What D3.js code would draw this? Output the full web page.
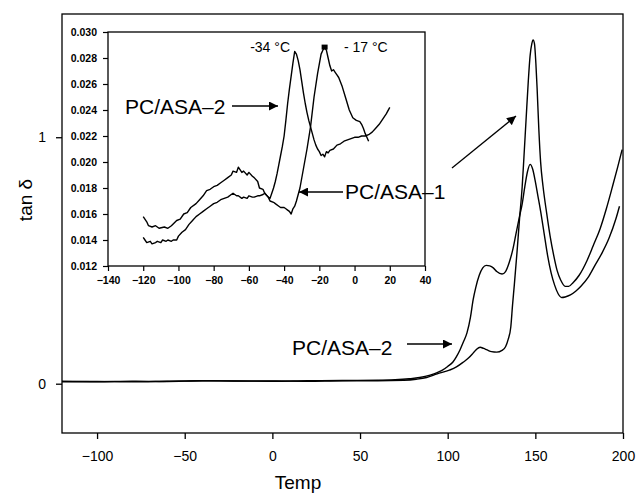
<!DOCTYPE html>
<html><head><meta charset="utf-8">
<script src="https://cdn.jsdelivr.net/npm/d3@7"></script>
<style>body{margin:0;background:#fff}svg{display:block}text{font-family:"Liberation Sans",Arial,sans-serif;fill:#000}</style>
</head><body><svg id="c" width="638" height="496"></svg>
<script>
// ---- main plot data ----
const mainTicksX = [-100, -50, 0, 50, 100, 150, 200];
const mainTicksY = [0, 1];
const asa2Temp = [-120,-100,-80,-60,-40,-20,0,20,40,60,70,78,84,90,94,97,100,103,105,107,109,111,113,114.5,116,118,120,122,124,126,128,131,133,135,137,139,141,142.5,144,145.5,147,148.5,150,151.5,153,155,157,159,161,163,165,167,170,173,176,180,184,188,192,196,198];
const asa2Tan  = [0.010,0.008,0.010,0.009,0.012,0.011,0.010,0.012,0.013,0.014,0.016,0.020,0.025,0.035,0.045,0.055,0.070,0.088,0.110,0.137,0.170,0.206,0.270,0.340,0.390,0.440,0.470,0.480,0.478,0.470,0.455,0.445,0.455,0.490,0.540,0.610,0.680,0.730,0.800,0.860,0.890,0.870,0.820,0.760,0.700,0.610,0.520,0.450,0.400,0.365,0.350,0.352,0.360,0.375,0.395,0.430,0.480,0.530,0.590,0.670,0.720];
const asa1Temp = [-120,-100,-80,-60,-40,-20,0,20,40,60,75,82,88,94,101,105,109,112,114.5,116.5,118.5,120.5,122.5,125,128,131,133,134.5,136,137,138,139.5,141,142.5,143.5,144.7,146,147,148,148.7,149.5,150.3,151,152,153,154.4,156.5,158.4,160.5,162.4,164.5,167,169,171.5,175,179.5,183,187,190.5,194,197,199.5];
const asa1Tan  = [0.008,0.009,0.008,0.010,0.012,0.011,0.011,0.010,0.012,0.012,0.014,0.018,0.025,0.040,0.055,0.068,0.088,0.105,0.124,0.140,0.148,0.143,0.137,0.130,0.128,0.135,0.150,0.180,0.230,0.320,0.400,0.530,0.670,0.800,0.920,1.070,1.230,1.330,1.380,1.395,1.380,1.300,1.200,1.030,0.900,0.800,0.690,0.600,0.520,0.460,0.420,0.395,0.395,0.410,0.440,0.500,0.560,0.630,0.710,0.800,0.880,0.950];

// ---- inset data ----
const insetTicksX = [-140,-120,-100,-80,-60,-40,-20,0,20,40];
const insetTicksY = [0.012,0.014,0.016,0.018,0.020,0.022,0.024,0.026,0.028,0.030];
const inA1Temp = [-120,-118,-117,-115,-113,-111,-108,-106,-104,-101,-99,-97,-95,-93,-90,-88,-86,-84,-82,-80,-78,-76,-74,-72,-70,-69,-67,-66,-64,-63,-61,-60,-58,-57,-55,-54,-52,-51,-49,-48,-46,-45,-43,-42,-40,-39,-38,-37,-36,-35,-34,-33,-31,-29,-27,-25,-23,-21,-19,-18,-17,-16,-15,-14,-13,-12,-11,-10,-9,-7,-5,-3,-1,1,3,4,5,6,7,8];
const inA1Tan  = [0.0158,0.0154,0.0151,0.0150,0.0151,0.0149,0.0150,0.0149,0.0151,0.0155,0.0156,0.0160,0.0161,0.0165,0.0168,0.0171,0.0174,0.0178,0.0179,0.0181,0.0182,0.0184,0.0186,0.0188,0.0190,0.0193,0.0192,0.0196,0.0192,0.0193,0.0190,0.0192,0.0189,0.0188,0.0185,0.0180,0.0179,0.0176,0.0173,0.0170,0.0169,0.0168,0.0166,0.0165,0.0165,0.0164,0.0163,0.0162,0.0160,0.0164,0.0166,0.0170,0.0180,0.0195,0.0210,0.0227,0.0250,0.0268,0.0283,0.0286,0.0288,0.0286,0.0280,0.0274,0.0270,0.0271,0.0269,0.0267,0.0265,0.0258,0.0249,0.0240,0.0234,0.0232,0.0231,0.0229,0.0226,0.0222,0.0219,0.0216];
const inA2Temp = [-120,-119,-118,-116,-115,-113,-112,-110,-109,-107,-106,-104,-103,-101,-100,-98,-96,-94,-92,-90,-88,-86,-84,-82,-80,-78,-76,-74,-72,-70,-69,-67,-66,-64,-63,-61,-60,-58,-57,-55,-54,-52,-51,-49,-48,-47,-46,-45,-44,-43,-42,-41,-40,-39,-38,-37,-36,-35,-34,-33,-32,-31,-30,-29,-28,-27,-26,-25,-24,-23,-22,-21,-20,-19,-18,-17,-16,-15,-14,-12,-10,-8,-6,-4,-2,0,2,4,6,8,10,12,14,16,18,20];
const inA2Tan  = [0.0142,0.0140,0.0138,0.0139,0.0137,0.0138,0.0139,0.0138,0.0140,0.0139,0.0140,0.0139,0.0140,0.0140,0.0143,0.0146,0.0148,0.0152,0.0155,0.0158,0.0160,0.0162,0.0164,0.0166,0.0168,0.0169,0.0171,0.0172,0.0173,0.0175,0.0176,0.0174,0.0174,0.0172,0.0173,0.0172,0.0174,0.0173,0.0173,0.0174,0.0174,0.0175,0.0176,0.0173,0.0172,0.0176,0.0180,0.0185,0.0191,0.0198,0.0205,0.0212,0.0220,0.0232,0.0245,0.0256,0.0266,0.0276,0.0285,0.0283,0.0278,0.0271,0.0262,0.0253,0.0245,0.0238,0.0232,0.0227,0.0222,0.0217,0.0213,0.0210,0.0208,0.0205,0.0206,0.0204,0.0208,0.0207,0.0209,0.0210,0.0213,0.0214,0.0216,0.0217,0.0218,0.0219,0.0219,0.0220,0.0220,0.0221,0.0223,0.0226,0.0229,0.0233,0.0237,0.0242];

const svg = d3.select('#c');

// ---- main scales ----
const x = d3.scaleLinear().domain([-120, 200]).range([62, 623]);
const y = d3.scaleLinear().domain([-0.2, 1.5]).range([433, 14]);

const main = svg.append('g');
main.append('rect').attr('x', 62).attr('y', 14).attr('width', 561).attr('height', 419)
  .attr('fill', 'none').attr('stroke', '#000').attr('stroke-width', 1.3);

const ax = main.append('g').attr('transform', 'translate(0,433)')
  .call(d3.axisBottom(x).tickValues(mainTicksX).tickSize(6).tickPadding(12).tickFormat(d3.format('d')));
ax.select('.domain').remove();
ax.selectAll('text').attr('font-size', 14).attr('font-family', '"Liberation Sans",Arial,sans-serif').attr('fill','#000');
ax.selectAll('line').attr('stroke-width', 1.3);

const ay = main.append('g').attr('transform', 'translate(62,0)')
  .call(d3.axisLeft(y).tickValues(mainTicksY).tickSize(6).tickPadding(10).tickFormat(d3.format('d')));
ay.select('.domain').remove();
ay.selectAll('text').attr('font-size', 14).attr('font-family', '"Liberation Sans",Arial,sans-serif').attr('fill','#000');
ay.selectAll('line').attr('stroke-width', 1.3);

main.append('text').attr('x', 298).attr('y', 489).attr('text-anchor', 'middle')
  .attr('font-size', 19).text('Temp');
main.append('text').attr('transform', 'translate(32,200) rotate(-90)').attr('text-anchor', 'middle')
  .attr('font-size', 19).text('tan δ');

const lineMain = d3.line().x(d => x(d[0])).y(d => y(d[1])).curve(d3.curveMonotoneX);
main.append('path').datum(d3.zip(asa2Temp, asa2Tan)).attr('d', lineMain)
  .attr('fill', 'none').attr('stroke', '#000').attr('stroke-width', 1.4);
main.append('path').datum(d3.zip(asa1Temp, asa1Tan)).attr('d', lineMain)
  .attr('fill', 'none').attr('stroke', '#000').attr('stroke-width', 1.4);

// ---- arrows ----
const defs = svg.append('defs');
defs.append('marker').attr('id', 'ah').attr('viewBox', '0 0 10 10').attr('refX', 10).attr('refY', 5)
  .attr('markerWidth', 10).attr('markerHeight', 9).attr('markerUnits', 'userSpaceOnUse').attr('orient', 'auto')
  .append('path').attr('d', 'M0,0 L10,5 L0,10 Z').attr('fill', '#000');

function arrow(x1, y1, x2, y2) {
  svg.append('line').attr('x1', x1).attr('y1', y1).attr('x2', x2).attr('y2', y2)
    .attr('stroke', '#000').attr('stroke-width', 1.3).attr('marker-end', 'url(#ah)');
}

main.append('text').attr('x', 292).attr('y', 355).attr('font-size', 21).text('PC/ASA–2');
arrow(407, 344, 452, 344);
arrow(452, 168, 516, 116);

// ---- inset ----
const ix = d3.scaleLinear().domain([-140, 40]).range([108, 425]);
const iy = d3.scaleLinear().domain([0.012, 0.030]).range([266, 32]);
const inset = svg.append('g');
inset.append('rect').attr('x', 108).attr('y', 32).attr('width', 317).attr('height', 234)
  .attr('fill', '#fff').attr('stroke', '#000').attr('stroke-width', 1.3);

const iax = inset.append('g').attr('transform', 'translate(0,266)')
  .call(d3.axisBottom(ix).tickValues(insetTicksX).tickSize(5).tickPadding(6).tickFormat(d3.format('d')));
iax.select('.domain').remove();
iax.selectAll('text').attr('font-size', 10.5).attr('font-weight', 'bold').attr('font-family', '"DejaVu Sans Mono",monospace').attr('fill','#000');
iax.selectAll('line').attr('stroke-width', 1.2);

const iay = inset.append('g').attr('transform', 'translate(108,0)')
  .call(d3.axisLeft(iy).tickValues(insetTicksY).tickSize(5).tickPadding(6).tickFormat(d3.format('.3f')));
iay.select('.domain').remove();
iay.selectAll('text').attr('font-size', 10.5).attr('font-weight', 'bold').attr('font-family', '"DejaVu Sans Mono",monospace').attr('fill','#000');
iay.selectAll('line').attr('stroke-width', 1.2);

const lineIn = d3.line().x(d => ix(d[0])).y(d => iy(d[1]));
inset.append('path').datum(d3.zip(inA1Temp, inA1Tan)).attr('d', lineIn)
  .attr('fill', 'none').attr('stroke', '#000').attr('stroke-width', 1.4).attr('stroke-linejoin', 'round');
inset.append('path').datum(d3.zip(inA2Temp, inA2Tan)).attr('d', lineIn)
  .attr('fill', 'none').attr('stroke', '#000').attr('stroke-width', 1.4).attr('stroke-linejoin', 'round');

// peak marker at -17
inset.append('rect').attr('x', ix(-17) - 3).attr('y', iy(0.0288) - 3).attr('width', 6).attr('height', 5).attr('fill', '#000');

inset.append('text').attr('x', 290).attr('y', 52).attr('text-anchor', 'end').attr('font-size', 14).text('-34 °C');
inset.append('text').attr('x', 344).attr('y', 52).attr('font-size', 14).text('- 17 °C');

inset.append('text').attr('x', 125).attr('y', 114).attr('font-size', 21).text('PC/ASA–2');
arrow(232, 106, 278, 106);
svg.append('text').attr('x', 345).attr('y', 199).attr('font-size', 21).text('PC/ASA–1');
arrow(343, 192, 299, 192);
</script></body></html>
